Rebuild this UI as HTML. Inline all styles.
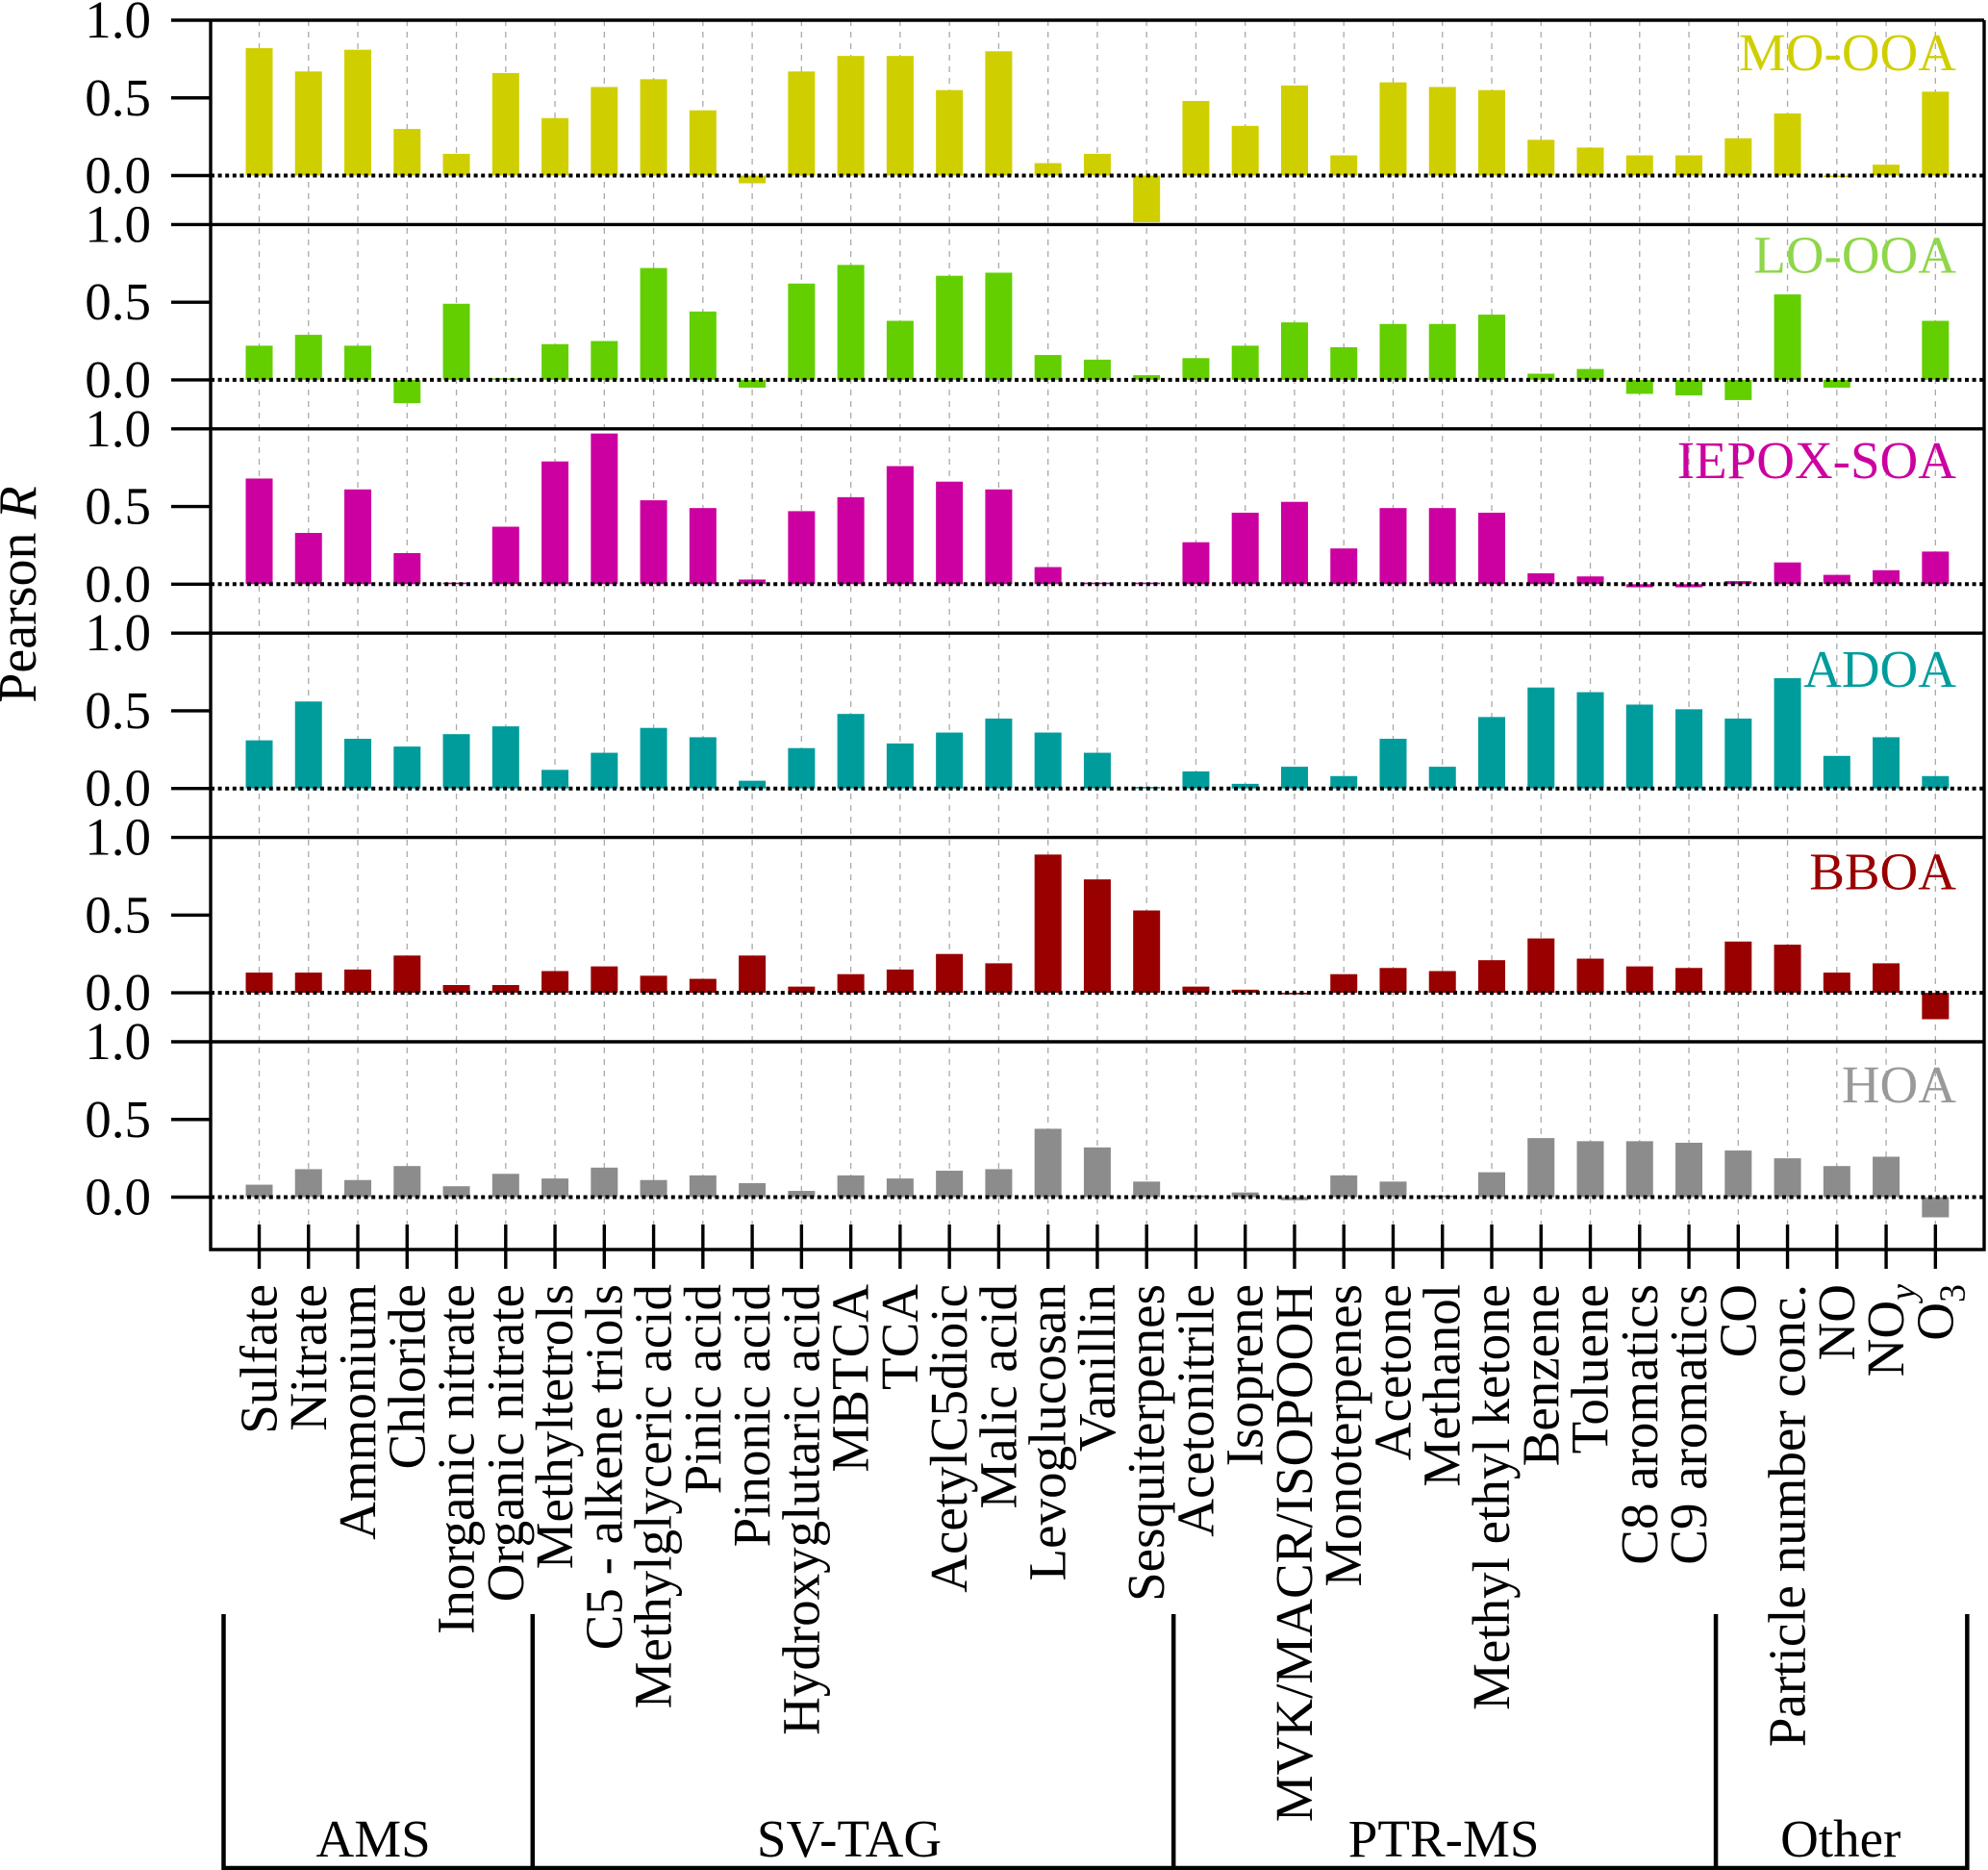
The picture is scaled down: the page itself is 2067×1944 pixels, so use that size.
<!DOCTYPE html>
<html lang="en">
<head>
<meta charset="utf-8">
<title>Pearson R correlation by factor</title>
<style>
html,body{margin:0;padding:0;background:#fff;}
svg{display:block;font-family:"Liberation Serif",serif;}
</style>
</head>
<body>
<svg id="chart" xmlns="http://www.w3.org/2000/svg" width="2067" height="1944" viewBox="0 0 2067 1944">
<rect x="0" y="0" width="2067" height="1944" fill="#fff"/>
<text transform="translate(37,618) rotate(-90)" text-anchor="middle" font-size="56" fill="#000">Pearson <tspan font-style="italic">R</tspan></text>
</svg>
<script>
const categories = ['Sulfate','Nitrate','Ammonium','Chloride','Inorganic nitrate','Organic nitrate','Methyltetrols','C5 - alkene triols','Methylglyceric acid','Pinic acid','Pinonic acid','Hydroxyglutaric acid','MBTCA','TCA','AcetylC5dioic','Malic acid','Levoglucosan','Vanillin','Sesquiterpenes','Acetonitrile','Isoprene','MVK/MACR/ISOPOOH','Monoterpenes','Acetone','Methanol','Methyl ethyl ketone','Benzene','Toluene','C8 aromatics','C9 aromatics','CO','Particle number conc.','NO','NOy','O3'];
const panelNames = ['MO-OOA','LO-OOA','IEPOX-SOA','ADOA','BBOA','HOA'];
const moOoa = [.82,.67,.81,.30,.14,.66,.37,.57,.62,.42,-.05,.67,.77,.77,.55,.80,.08,.14,-.30,.48,.32,.58,.13,.60,.57,.55,.23,.18,.13,.13,.24,.40,-.01,.07,.54];
const loOoa = [.22,.29,.22,-.15,.49,.01,.23,.25,.72,.44,-.05,.62,.74,.38,.67,.69,.16,.13,.03,.14,.22,.37,.21,.36,.36,.42,.04,.07,-.09,-.10,-.13,.55,-.05,0,.38];
const iepoxSoa = [.68,.33,.61,.20,.01,.37,.79,.97,.54,.49,.03,.47,.56,.76,.66,.61,.11,.01,.01,.27,.46,.53,.23,.49,.49,.46,.07,.05,-.02,-.02,.02,.14,.06,.09,.21];
const adoa = [.31,.56,.32,.27,.35,.40,.12,.23,.39,.33,.05,.26,.48,.29,.36,.45,.36,.23,.01,.11,.03,.14,.08,.32,.14,.46,.65,.62,.54,.51,.45,.71,.21,.33,.08];
const bboa = [.13,.13,.15,.24,.05,.05,.14,.17,.11,.09,.24,.04,.12,.15,.25,.19,.89,.73,.53,.04,.02,-.01,.12,.16,.14,.21,.35,.22,.17,.16,.33,.31,.13,.19,-.17];
const hoa = [.08,.18,.11,.20,.07,.15,.12,.19,.11,.14,.09,.04,.14,.12,.17,.18,.44,.32,.10,.01,.03,-.02,.14,.10,.01,.16,.38,.36,.36,.35,.30,.25,.20,.26,-.13];
const yTicks = [1.0,0.5,0.0];
const yTickLabels = ['1.0','0.5','0.0'];
const groupNames = ['AMS','SV-TAG','PTR-MS','Other'];
const groupCounts = [6,13,11,5];

const seriesList = [moOoa,loOoa,iepoxSoa,adoa,bboa,hoa];
const barColors = ['#cfcf00','#63cf00','#cc00a0','#009c9c','#990000','#8c8c8c'];
const nameColors = ['#cfcf00','#8fd64a','#cc00a0','#009c9c','#990000','#999999'];
const nameBaselineOffsets = [52,50,51,56,54,63];
const groupLabelNudge = [-5,-4,-1,-1];

const NS = 'http://www.w3.org/2000/svg';
const svg = document.getElementById('chart');
const AXIS_X = 219, RIGHT_X = 2063, TICK_X = 178, TOP_Y = 21, PANEL_H = 212.4, BOTTOM_Y = 1299, UNIT = 161.5;
const FIRST_X = 269.5, STEP_X = 51.26, BAR_W = 28;

function xScale(i){ return FIRST_X + i * STEP_X; }
function panelTop(p){ return TOP_Y + p * PANEL_H; }
function yScale(p, v){ return panelTop(p) + (1 - v) * UNIT; }
function make(tag, props, parent){
  const e = document.createElementNS(NS, tag);
  for (const k in props) e.setAttribute(k, props[k]);
  (parent || svg).appendChild(e);
  return e;
}

// vertical dashed gridlines
categories.forEach(function(c, i){
  const g = make('line', {x1:xScale(i), x2:xScale(i), y1:TOP_Y, y2:BOTTOM_Y-26, stroke:'#aaa', 'stroke-width':1.3, 'stroke-dasharray':'6 6'});
  
  
});

// panels
seriesList.forEach(function(values, p){
  values.forEach(function(v, i){
    const y0 = yScale(p, 0), y1 = yScale(p, v);
    const b = make('rect', {x:xScale(i)-BAR_W/2, y:Math.min(y0,y1), width:BAR_W, height:Math.abs(y1-y0), fill:barColors[p]});
    
    
  });
  const zero = make('line', {x1:AXIS_X, x2:RIGHT_X, y1:yScale(p,0), y2:yScale(p,0), stroke:'#000', 'stroke-width':4, 'stroke-dasharray':'4 3.6'});
  
  
  const sep = make('line', {x1:TICK_X, x2:RIGHT_X, y1:panelTop(p), y2:panelTop(p), stroke:'#000', 'stroke-width':3.4});
  
  
  yTicks.forEach(function(t, k){
    if (k > 0) {
      const tick = make('line', {x1:TICK_X, x2:AXIS_X, y1:yScale(p,t), y2:yScale(p,t), stroke:'#000', 'stroke-width':3.4});
      
      
    }
    const lab = make('text', {x:157, y:yScale(p,t)+18, 'text-anchor':'end', 'font-size':55, fill:'#000'});
    lab.textContent = yTickLabels[k];
    
    
  });
  const pn = make('text', {x:2034, y:panelTop(p)+nameBaselineOffsets[p], 'text-anchor':'end', 'font-size':55, fill:nameColors[p]});
  pn.textContent = panelNames[p];
  
  
});

// frame
const frame = make('path', {d:'M'+AXIS_X+' '+TOP_Y+'V'+BOTTOM_Y+'H'+RIGHT_X+'V'+TOP_Y, fill:'none', stroke:'#000', 'stroke-width':3.4});



// x ticks + labels
categories.forEach(function(c, i){
  const t = make('line', {x1:xScale(i), x2:xScale(i), y1:BOTTOM_Y-26, y2:BOTTOM_Y+20, stroke:'#000', 'stroke-width':3.4});
  
  
  const lx = xScale(i) + 18, ly = 1335;
  const lab = make('text', {transform:'translate('+lx+','+ly+') rotate(-90)', 'text-anchor':'end', 'font-size':55, fill:'#000'});
  if (c === 'NOy' || c === 'O3') {
    const base = make('tspan', {}, lab);
    base.textContent = c.slice(0, -1);
    const sub = make('tspan', {dy:12, 'font-size':38}, lab);
    if (c === 'NOy') sub.setAttribute('font-style', 'italic');
    sub.textContent = c.slice(-1);
  } else {
    lab.textContent = c;
  }
  
  
});

// instrument group brackets
const BR_TOP = 1678, BR_BOTTOM = 1942;
let startIdx = 0;
groupNames.forEach(function(name, g){
  const endIdx = startIdx + groupCounts[g];
  const left = startIdx === 0 ? xScale(0) - 37 : xScale(startIdx - 1) + 28;
  const right = endIdx === categories.length ? xScale(endIdx - 1) + 33 : xScale(endIdx - 1) + 28;
  const br = make('path', {d:'M'+left+' '+BR_TOP+'V'+BR_BOTTOM+'H'+right, fill:'none', stroke:'#000', 'stroke-width':4.5});
  
  
  const lab = make('text', {x:(left+right)/2+groupLabelNudge[g], y:1930, 'text-anchor':'middle', 'font-size':55, fill:'#000'});
  lab.textContent = name;
  
  
  if (g === groupNames.length - 1) {
    const end = make('line', {x1:right, x2:right, y1:BR_TOP, y2:BR_BOTTOM+2, stroke:'#000', 'stroke-width':4.5});
    
    
  }
  startIdx = endIdx;
});
</script>
</body>
</html>
